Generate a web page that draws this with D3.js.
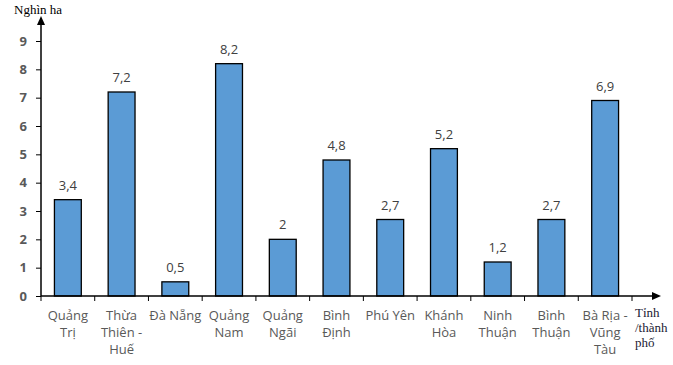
<!DOCTYPE html>
<html><head><meta charset="utf-8">
<script src="https://cdn.jsdelivr.net/npm/d3@7"></script>
<style>body{margin:0;background:#fff}</style>
</head><body>
<script>
const categories = [["Quảng","Trị"],["Thừa","Thiên -","Huế"],["Đà Nẵng"],["Quảng","Nam"],["Quảng","Ngãi"],["Bình","Định"],["Phú Yên"],["Khánh","Hòa"],["Ninh","Thuận"],["Bình","Thuận"],["Bà Rịa -","Vũng","Tàu"]];
const values = [3.4,7.2,0.5,8.2,2,4.8,2.7,5.2,1.2,2.7,6.9];
const yTicks = [0,1,2,3,4,5,6,7,8,9];

const W=673,H=365;
const svg=d3.select("body").append("svg").attr("width",W).attr("height",H);
const x0=41, xEnd=632, y0=296;
const x=d3.scaleBand().domain(d3.range(values.length)).range([x0,xEnd]).paddingInner(0.5).paddingOuter(0.25);
const bandX=d3.scaleBand().domain(d3.range(values.length)).range([x0,xEnd]);
const y=d3.scaleLinear().domain([0,9]).range([y0,41]);

// bars
svg.selectAll("rect.bar").data(values).enter().append("rect")
 .attr("x",(d,i)=>x(i)).attr("width",x.bandwidth())
 .attr("y",d=>y(d)).attr("height",d=>y0-y(d))
 .attr("fill","#5b9bd5").attr("stroke","#000").attr("stroke-width",1.3);

// value labels
const fmt=d=>String(d).replace(".",",");
svg.selectAll("text.val").data(values).enter().append("text")
 .attr("x",(d,i)=>x(i)+x.bandwidth()/2).attr("y",d=>y(d)-10)
 .attr("text-anchor","middle").attr("font-family","Open Sans, sans-serif").attr("font-size",13)
 .attr("fill","#404040").text(fmt);

// y axis
const yAxis=d3.axisLeft(y).tickValues(yTicks).tickSize(5).tickFormat(d3.format("d"));
const gy=svg.append("g").attr("transform",`translate(${x0},0)`).call(yAxis);
gy.select(".domain").remove();
gy.selectAll("line").attr("stroke","#000");
gy.selectAll("text").attr("font-family","Open Sans, sans-serif").attr("font-size",13).attr("font-weight","bold").attr("fill","#595959").attr("x",-14);
svg.append("line").attr("x1",x0).attr("x2",x0).attr("y1",y0).attr("y2",24).attr("stroke","#000").attr("stroke-width",1.5);
svg.append("path").attr("d",`M${x0-4},25 L${x0+4},25 L${x0},16 Z`).attr("fill","#000");

// x axis
svg.append("line").attr("x1",x0).attr("x2",654).attr("y1",y0).attr("y2",y0).attr("stroke","#000").attr("stroke-width",1.5);
svg.append("path").attr("d",`M652,${y0-4} L652,${y0+4} L661,${y0} Z`).attr("fill","#000");
const tickPos=d3.range(values.length+1).map(i=>i<values.length?bandX(i):xEnd);
svg.selectAll("line.xt").data(tickPos).enter().append("line")
 .attr("x1",d=>d).attr("x2",d=>d).attr("y1",y0).attr("y2",y0+5).attr("stroke","#000");

// category labels
categories.forEach((lines,i)=>{
  const t=svg.append("text").attr("text-anchor","middle").attr("font-family","Open Sans, sans-serif")
   .attr("font-size",13).attr("fill","#595959");
  lines.forEach((l,j)=>t.append("tspan").attr("x",x(i)+x.bandwidth()/2).attr("y",320+j*17).text(l));
});

// axis titles
svg.append("text").attr("x",14).attr("y",14).attr("font-family","Liberation Serif, serif").attr("font-size",13).attr("fill","#000").text("Nghìn ha");
[["Tỉnh",317],["/thành",332],["phố",347]].forEach(([s,yy])=>svg.append("text").attr("x",635).attr("y",yy)
  .attr("font-family","Liberation Serif, serif").attr("font-size",13).attr("fill","#1a1a33").text(s));
</script>
</body></html>
